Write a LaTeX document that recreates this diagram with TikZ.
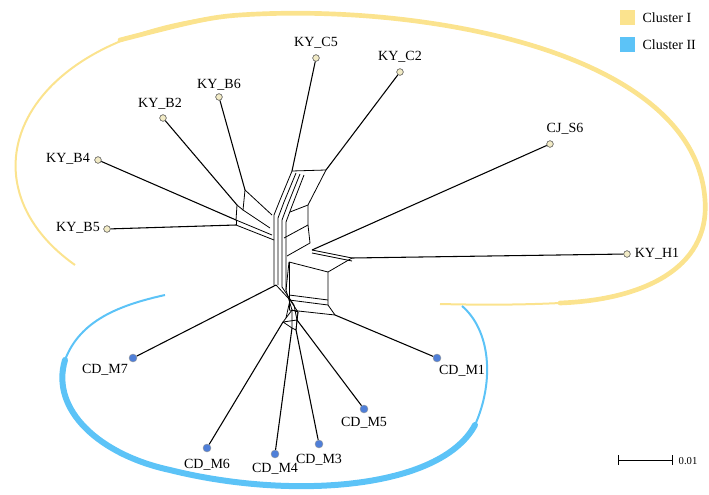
\documentclass[tikz,border=0pt]{standalone}
\usepackage{fontspec}
\setmainfont{Liberation Serif}
\definecolor{yel}{HTML}{FBE38E}
\definecolor{blu}{HTML}{5CC3F7}
\definecolor{ydot}{HTML}{F2EBC6}
\definecolor{bdot}{HTML}{4F7FD8}
\tikzset{
 ed/.style={line width=0.8pt},
 yd/.style={circle,draw=black!70,fill=ydot,inner sep=0pt,minimum size=5pt,line width=0.4pt},
 bd/.style={circle,draw=black!40,fill=bdot,inner sep=0pt,minimum size=6pt,line width=0.3pt},
 lab/.style={font=\fontsize{10.5}{12}\selectfont,inner sep=1pt}
}
\begin{document}
\begin{tikzpicture}[x=0.75pt,y=-0.75pt]
\useasboundingbox (0,0) rectangle (709,495);
% clusters
\draw[yel,line width=1.5pt] (75,265) .. controls (-45,180) and (20,30) .. (240,15);
\draw[yel,line width=3.5pt,line cap=round] (120,40) .. controls (190,22) and (210,17) .. (240,15) .. controls (420,3) and (695,50) .. (705,200) .. controls (710,270) and (640,300) .. (560,303);
\draw[yel,line width=1.5pt] (560,303) .. controls (520,305) and (480,305) .. (440,304);
\draw[blu,line width=1.5pt] (165,295) .. controls (120,305) and (80,320) .. (65,360);
\draw[blu,line width=4.5pt,line cap=round] (65,360) .. controls (50,410) and (100,455) .. (170,470) .. controls (290,500) and (440,490) .. (475,425);
\draw[blu,line width=1.5pt] (475,425) .. controls (495,380) and (490,330) .. (462,306);
% leaves
\node[yd] (c5) at (316,58) {}; \node[lab] at (316,43) {KY\_C5};
\node[yd] (c2) at (400,72) {}; \node[lab] at (400,57) {KY\_C2};
\node[yd] (b6) at (219,97) {}; \node[lab] at (219,85) {KY\_B6};
\node[yd] (b2) at (163,118) {}; \node[lab] at (160,104) {KY\_B2};
\node[yd] (b4) at (98,160) {}; \node[lab] at (68,159) {KY\_B4};
\node[yd] (b5) at (107,229) {}; \node[lab] at (78,228) {KY\_B5};
\node[yd] (s6) at (550,144) {}; \node[lab] at (565,129) {CJ\_S6};
\node[yd] (h1) at (627,254) {}; \node[lab] at (657,254) {KY\_H1};
\node[bd] (m7) at (133,358) {}; \node[lab] at (105,370) {CD\_M7};
\node[bd] (m1) at (437,358) {}; \node[lab] at (462,371) {CD\_M1};
\node[bd] (m6) at (207,448) {}; \node[lab] at (207,465) {CD\_M6};
\node[bd] (m4) at (275,454) {}; \node[lab] at (275,469) {CD\_M4};
\node[bd] (m3) at (319,444) {}; \node[lab] at (319,460) {CD\_M3};
\node[bd] (m5) at (364,409) {}; \node[lab] at (364,423) {CD\_M5};
% internal coordinates
\coordinate (ic5) at (292,171); \coordinate (ic2) at (326,170);
\coordinate (ib6) at (245,190); \coordinate (ib2) at (237,205);
\coordinate (ib4) at (236,220); \coordinate (ib5) at (236,225);
\coordinate (is6) at (312,250); \coordinate (ih1) at (352,258);
\coordinate (im1) at (335,315); \coordinate (im7) at (276,285);
\coordinate (im6) at (283,322); \coordinate (im4) at (292,328);
\coordinate (im3) at (296,330); \coordinate (im5) at (297,320);
\draw[ed] (c5)--(ic5); \draw[ed] (c2)--(ic2); \draw[ed] (b6)--(ib6);
\draw[ed] (b2)--(ib2); \draw[ed] (b4)--(ib4); \draw[ed] (b5)--(ib5);
\draw[ed] (s6)--(is6); \draw[ed] (h1)--(ih1); \draw[ed] (m1)--(im1);
\draw[ed] (m7)--(im7); \draw[ed] (m6)--(im6); \draw[ed] (m4)--(im4);
\draw[ed] (m3)--(im3); \draw[ed] (m5)--(im5);
% network core (approximate splits)
\begin{scope}[line width=0.6pt]
\draw (ic5)--(ic2);
\draw (ic5)--(280,200)--(274,215)--(274,285);
\draw (296,173)--(284,202)--(278,218)--(278,285);
\draw (300,174)--(288,204)--(282,220)--(282,287);
\draw (304,175)--(292,206)--(286,222)--(286,290);
\draw (ic2)--(308,205)--(290,212);
\draw (308,205)--(308,225)--(284,238);
\draw (308,225)--(310,243)--(287,256);
\draw (ib6)--(272,215);
\draw (ib6)--(243,210)--(270,228);
\draw (ib2)--(243,210);
\draw (237,205)--(236,220)--(272,235);
\draw (ib4)--(ib5);
\draw (ib5)--(274,240);
\draw (is6)--(ih1);
\draw (312,253)--(352,261);
\draw (ih1)--(328,272)--(328,305);
\draw (289,262)--(328,272);
\draw (289,295)--(328,300);
\draw (289,300)--(328,305)--(im1);
\draw (im1)--(289,310);
\draw (274,285)--(im7);
\draw (im7)--(290,300)--(286,318)--(im6);
\draw (282,287)--(294,305)--(im5);
\draw (286,290)--(292,310)--(im4);
\draw (290,300)--(298,312)--(im3);
\draw (286,318)--(292,310)--(298,312)--(297,320);
\draw (im6)--(292,328)--(296,330)--(im5)--(im6);
\draw (286,290)--(289,262);
\draw (289,262)--(289,310);
\end{scope}
% legend
\fill[yel] (620,10) rectangle (635,25); \node[lab,anchor=west] at (641,18) {Cluster I};
\fill[blu] (620,37) rectangle (635,52); \node[lab,anchor=west] at (641,45) {Cluster II};
% scale
\draw[line width=0.7pt] (618,460)--(672,460); \draw[line width=0.7pt] (618,455)--(618,465); \draw[line width=0.7pt] (672,455)--(672,465);
\node[font=\fontsize{8}{9}\selectfont,anchor=west] at (674,461) {0.01};
\end{tikzpicture}
\end{document}
